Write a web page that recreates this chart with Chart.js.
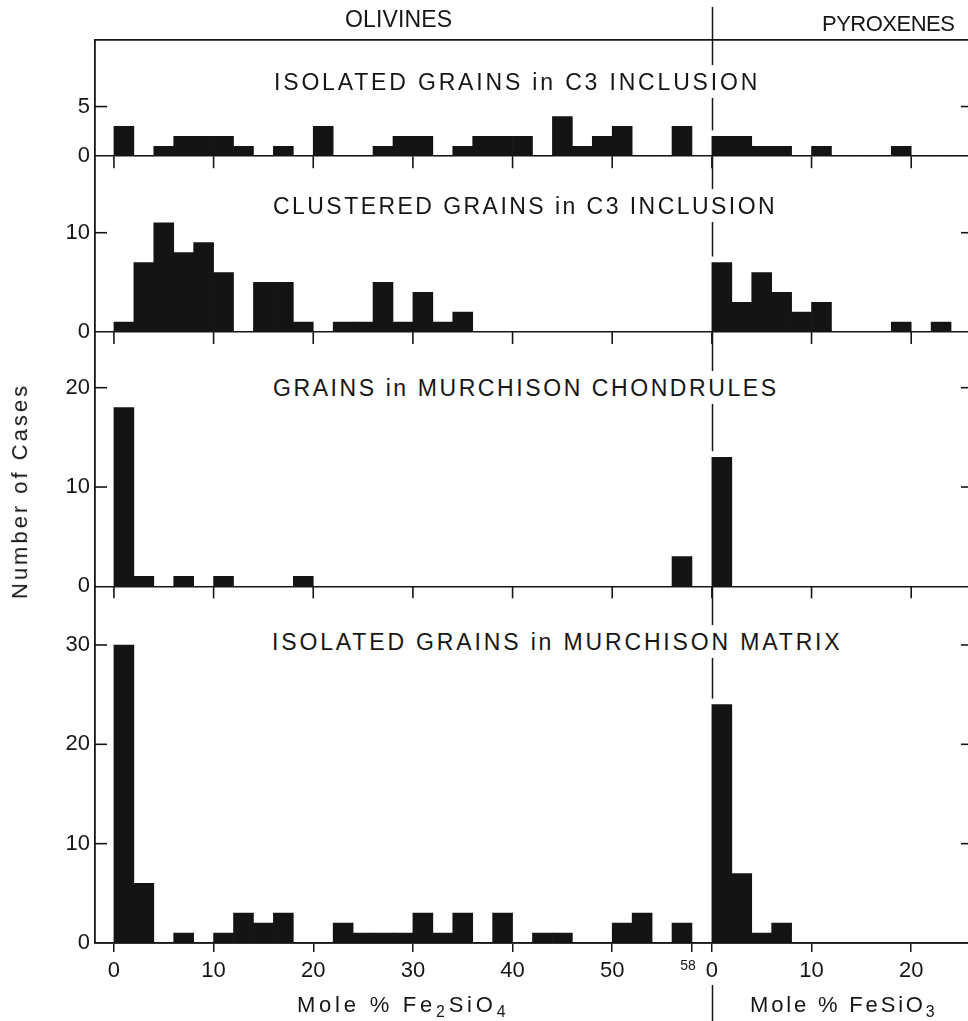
<!DOCTYPE html>
<html>
<head>
<meta charset="utf-8">
<script src="https://cdn.jsdelivr.net/npm/chart.js@4.4.1/dist/chart.umd.min.js"></script>
<style>
html,body{margin:0;padding:0;background:#fff;overflow:hidden}
#wrap{position:relative;width:968px;height:1021px;background:#fff}
#c{position:absolute;left:0;top:0}
.lbl{position:absolute;white-space:nowrap;font-family:"Liberation Sans",Arial,sans-serif;color:#161616;line-height:1;padding:0}
.mask{background:#fff;padding:6px 0 4px 0}
sub{font-size:0.72em;position:relative;top:0.3em;vertical-align:baseline;line-height:0}
</style>
</head>
<body>
<div id="wrap">
<canvas id="c" width="968" height="1021"></canvas>
<div class="lbl" data-x="345" data-base="27" data-w="107" data-fs="23">OLIVINES</div>
<div class="lbl" data-x="822" data-base="31" data-w="133" data-fs="22">PYROXENES</div>
<div class="lbl mask" data-x="274" data-base="90" data-w="483" data-fs="23">ISOLATED GRAINS in C3 INCLUSION</div>
<div class="lbl mask" data-x="273" data-base="214" data-w="502" data-fs="23">CLUSTERED GRAINS in C3 INCLUSION</div>
<div class="lbl mask" data-x="273" data-base="396" data-w="503" data-fs="23">GRAINS in MURCHISON CHONDRULES</div>
<div class="lbl mask" data-x="272" data-base="650" data-w="568" data-fs="23">ISOLATED GRAINS in MURCHISON MATRIX</div>
<div class="lbl" data-x="297" data-base="1012" data-w="208" data-fs="22">Mole % Fe<sub>2</sub>SiO<sub>4</sub></div>
<div class="lbl" data-x="750" data-base="1012" data-w="185" data-fs="22">Mole % FeSiO<sub>3</sub></div>
<div class="lbl" data-rot="1" data-bx="27" data-cy="491" data-w="213" data-fs="22">Number of Cases</div>
</div>
<script>
// ---- categories: bin centres (mole %), 2 mol% wide bins ----
const OLIVINE_BIN_CENTERS = [1,3,5,7,9,11,13,15,17,19,21,23,25,27,29,31,33,35,37,39,41,43,45,47,49,51,53,55,57];
const PYROXENE_BIN_CENTERS = [1,3,5,7,9,11,13,15,17,19,21,23,25];
const PYROXENE_AXIS_OFFSET = 60;   // pyroxene scale starts after olivine 58 (plus gap)

// ---- tick labels ----
const OLIVINE_TICKS = [0,10,20,30,40,50,58];
const PYROXENE_TICKS = [0,10,20];
const PANEL_Y_TICKS_1 = [0,5];
const PANEL_Y_TICKS_2 = [0,10];
const PANEL_Y_TICKS_3 = [0,10,20];
const PANEL_Y_TICKS_4 = [0,10,20,30];

// ---- series (number of cases per bin) ----
const isolatedC3Olivine   = [3,0,1,2,2,2,1,0,1,0,3,0,0,1,2,2,0,1,2,2,2,0,4,1,2,3,0,0,3];
const isolatedC3Pyroxene  = [2,2,1,1,0,1,0,0,0,1,0,0,0];
const clusteredC3Olivine  = [1,7,11,8,9,6,0,5,5,1,0,1,1,5,1,4,1,2,0,0,0,0,0,0,0,0,0,0,0];
const clusteredC3Pyroxene = [7,3,6,4,2,3,0,0,0,1,0,1,0];
const chondrulesOlivine   = [18,1,0,1,0,1,0,0,0,1,0,0,0,0,0,0,0,0,0,0,0,0,0,0,0,0,0,0,3];
const chondrulesPyroxene  = [13,0,0,0,0,0,0,0,0,0,0,0,0];
const matrixOlivine       = [30,6,0,1,0,1,3,2,3,0,0,2,1,1,1,3,1,3,0,3,0,1,1,0,0,2,3,0,2];
const matrixPyroxene      = [24,7,1,2,0,0,0,0,0,0,0,0,0];

const PANEL_NAMES = ['ISOLATED GRAINS in C3 INCLUSION','CLUSTERED GRAINS in C3 INCLUSION','GRAINS in MURCHISON CHONDRULES','ISOLATED GRAINS in MURCHISON MATRIX'];

// ---- layout / style ----
const LINE = '#161616';
const BAR = '#141414';
const FONT_FAMILY = '"Liberation Sans", Arial, sans-serif';
const TICK_FONT = {family: FONT_FAMILY, size: 22};
const PANEL_MAX = [11.7, 17.7, 25.6, 35.9];

const PANELS = [
  {id:'y1', name:PANEL_NAMES[0], olivine:isolatedC3Olivine, pyroxene:isolatedC3Pyroxene, ticks:PANEL_Y_TICKS_1, max:PANEL_MAX[0], order:4},
  {id:'y2', name:PANEL_NAMES[1], olivine:clusteredC3Olivine, pyroxene:clusteredC3Pyroxene, ticks:PANEL_Y_TICKS_2, max:PANEL_MAX[1], order:3},
  {id:'y3', name:PANEL_NAMES[2], olivine:chondrulesOlivine, pyroxene:chondrulesPyroxene, ticks:PANEL_Y_TICKS_3, max:PANEL_MAX[2], order:2},
  {id:'y4', name:PANEL_NAMES[3], olivine:matrixOlivine, pyroxene:matrixPyroxene, ticks:PANEL_Y_TICKS_4, max:PANEL_MAX[3], order:1}
];

const X_TICK_VALUES = OLIVINE_TICKS.concat(PYROXENE_TICKS.map(p => p + PYROXENE_AXIS_OFFSET));
const PANEL_TICK_VALUES = OLIVINE_TICKS.filter(v => v !== 58).concat(PYROXENE_TICKS.map(p => p + PYROXENE_AXIS_OFFSET));
const X_MIN = -1.9, X_MAX = 85.7;

function seriesPoints(olivine, pyroxene) {
  return OLIVINE_BIN_CENTERS.map((x, i) => ({x: x, y: olivine[i]}))
    .concat(PYROXENE_BIN_CENTERS.map((x, i) => ({x: x + PYROXENE_AXIS_OFFSET, y: pyroxene[i]})));
}

const scales = {
  x: {
    type: 'linear', position: 'bottom', min: X_MIN, max: X_MAX, offset: false,
    afterBuildTicks: s => { s.ticks = X_TICK_VALUES.map(v => ({value: v})); },
    afterFit: s => { s.height = 78; },
    ticks: {
      autoSkip: false, maxRotation: 0, padding: 6, color: LINE,
      font: c => (c.tick && c.tick.value === 58) ? {family: FONT_FAMILY, size: 14} : TICK_FONT,
      callback: v => v >= PYROXENE_AXIS_OFFSET ? String(v - PYROXENE_AXIS_OFFSET) : (v === 58 ? '58\u2007' : String(v))
    },
    grid: {offset: false, drawOnChartArea: false, drawTicks: true, tickLength: 9, color: LINE, lineWidth: 1.5},
    border: {display: true, color: LINE, width: 1.8}
  },
  xTop: {
    type: 'linear', position: 'top', min: X_MIN, max: X_MAX, offset: false,
    afterFit: s => { s.height = 0; },
    ticks: {display: false},
    grid: {offset: false, drawOnChartArea: false, drawTicks: false},
    border: {display: true, color: LINE, width: 1.8}
  }
};
PANELS.forEach(p => {
  scales[p.id] = {
    type: 'linear', position: 'left', stack: 'panels', stackWeight: p.max, weight: p.order,
    min: 0, max: p.max,
    afterBuildTicks: s => { s.ticks = p.ticks.map(v => ({value: v})); },
    afterFit: s => { s.width = 95; },
    ticks: {padding: 5, color: LINE, font: TICK_FONT, callback: v => String(v)},
    grid: {
      drawTicks: false,
      color: c => (c.tick && c.tick.value === 0) ? LINE : 'rgba(0,0,0,0)',
      lineWidth: 1.6
    },
    border: {display: true, color: LINE, width: 1.8}
  };
});

function strokeLine(ctx, x1, y1, x2, y2) {
  ctx.beginPath(); ctx.moveTo(x1, y1); ctx.lineTo(x2, y2); ctx.stroke();
}

const framePlugin = {
  id: 'frame',
  beforeDatasetsDraw(chart) {
    const ctx = chart.ctx, area = chart.chartArea, xs = chart.scales.x;
    const dx = Math.round(xs.getPixelForValue(PYROXENE_AXIS_OFFSET)) + 0.5;
    ctx.save();
    ctx.strokeStyle = LINE; ctx.lineWidth = 1.5;
    PANELS.forEach((p, k) => {
      const ys = chart.scales[p.id];
      const top = k === 0 ? area.top - 33 : ys.top;
      const end = p.pyroxene[0] > 0 ? ys.getPixelForValue(p.pyroxene[0]) - 6 : ys.bottom;
      strokeLine(ctx, dx, top, dx, end);
    });
    strokeLine(ctx, dx, area.bottom + 42, dx, chart.height);
    ctx.restore();
  },
  afterDraw(chart) {
    const ctx = chart.ctx, area = chart.chartArea, xs = chart.scales.x;
    ctx.save();
    ctx.strokeStyle = LINE; ctx.lineWidth = 1.6;
    PANELS.forEach((p, k) => {
      const ys = chart.scales[p.id];
      p.ticks.filter(v => v !== 0).forEach(v => {
        const py = ys.getPixelForValue(v);
        strokeLine(ctx, area.left, py, area.left + 12, py);
        strokeLine(ctx, area.right - 7, py, area.right, py);
      });
      if (k < PANELS.length - 1) {
        PANEL_TICK_VALUES.forEach(v => {
          const px = xs.getPixelForValue(v);
          strokeLine(ctx, px, ys.bottom, px, ys.bottom + 12);
        });
      }
    });
    ctx.restore();
  }
};

new Chart(document.getElementById('c'), {
  type: 'bar',
  data: {
    datasets: PANELS.map(p => ({
      label: p.name,
      data: seriesPoints(p.olivine, p.pyroxene),
      xAxisID: 'x', yAxisID: p.id,
      backgroundColor: BAR, borderWidth: 0,
      barPercentage: 1, categoryPercentage: 1, grouped: false
    }))
  },
  options: {
    responsive: false, animation: false, devicePixelRatio: 1,
    layout: {padding: {top: 40, left: 0, right: 0, bottom: 0}},
    plugins: {legend: {display: false}, tooltip: {enabled: false}, title: {display: false}},
    scales: scales
  },
  plugins: [framePlugin]
});

// ---- HTML text placement ----
function placeLabels() {
  document.querySelectorAll('.lbl').forEach(el => {
    const fs = +el.dataset.fs;
    el.style.transform = 'none';
    el.style.fontSize = fs + 'px';
    el.style.letterSpacing = '0px';
    let probe = el.querySelector('.probe');
    if (!probe) {
      probe = document.createElement('span');
      probe.className = 'probe';
      probe.style.cssText = 'display:inline-block;width:0;height:0;vertical-align:baseline';
      el.appendChild(probe);
    }
    const n = el.textContent.length;
    const natural = el.offsetWidth;
    const target = +el.dataset.w;
    const ls = n > 1 ? (target - natural) / (n - 1) : 0;
    el.style.letterSpacing = ls + 'px';
    const baseOff = probe.offsetTop;
    if (el.dataset.rot) {
      const w = el.offsetWidth, h = el.offsetHeight;
      const cx = +el.dataset.bx - (baseOff - h / 2);
      el.style.left = (cx - w / 2) + 'px';
      el.style.top = (+el.dataset.cy - h / 2) + 'px';
      el.style.transform = 'rotate(-90deg)';
    } else {
      el.style.left = el.dataset.x + 'px';
      el.style.top = (+el.dataset.base - baseOff) + 'px';
    }
  });
}
placeLabels();
if (document.fonts && document.fonts.ready) document.fonts.ready.then(placeLabels);
</script>
</body>
</html>
